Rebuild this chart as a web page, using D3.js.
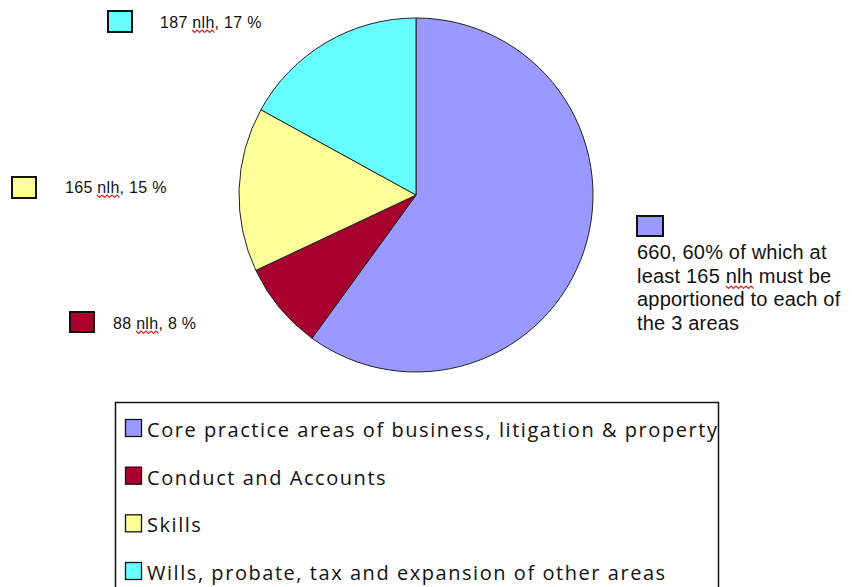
<!DOCTYPE html>
<html>
<head>
<meta charset="utf-8">
<script src="https://cdn.jsdelivr.net/npm/d3@7"></script>
<style>
  body { margin: 0; background: #fff; }
  svg { display: block; }
</style>
</head>
<body>
<svg id="chart" width="852" height="587"></svg>
<script>
var categories = ["Core practice areas of business, litigation & property",
                  "Conduct and Accounts",
                  "Skills",
                  "Wills, probate, tax and expansion of other areas"];
var values = [660, 88, 165, 187];
var percents = [60, 8, 15, 17];
var colours = ["#9999ff", "#a8002f", "#ffff99", "#66ffff"];
var calloutLines = [
  ["660, 60% of which at", "least 165 nlh must  be", "apportioned to each of", "the 3 areas"],
  ["88 nlh, 8 %"],
  ["165 nlh, 15 %"],
  ["187 nlh, 17 %"]
];

var svg = d3.select("#chart");
var cx = 416, cy = 195, radius = 177;

var pie = d3.pie().sort(null).value(function (d) { return d; });
var arc = d3.arc().innerRadius(0).outerRadius(radius);

var g = svg.append("g").attr("transform", "translate(" + cx + "," + cy + ")");
g.selectAll("path.slice")
  .data(pie(values))
  .enter().append("path")
  .attr("class", "slice")
  .attr("d", arc)
  .style("fill", function (d, i) { return colours[i]; })
  .style("stroke", "#222")
  .style("stroke-width", 1);

// callout labels: swatch + text
var callouts = [
  {sx: 637, sy: 216, sw: 26, sh: 20, tx: 637, ty: 259, size: 20, ls: 0.2, lh: 23.5},
  {sx: 70, sy: 312, sw: 24, sh: 20, tx: 113, ty: 329, size: 16, ls: 0.3, lh: 0},
  {sx: 12, sy: 177, sw: 24, sh: 21, tx: 65, ty: 193, size: 16, ls: 0.3, lh: 0},
  {sx: 108, sy: 11, sw: 24, sh: 21, tx: 160, ty: 28, size: 16, ls: 0.3, lh: 0}
];

function squiggle(x0, x1, y) {
  var p = "M" + x0 + "," + y;
  var up = true;
  for (var x = x0 + 2.5; x <= x1 + 0.5; x += 2.5) {
    p += "L" + x + "," + (up ? y + 2.5 : y);
    up = !up;
  }
  return p;
}

callouts.forEach(function (c, i) {
  svg.append("rect")
    .attr("x", c.sx).attr("y", c.sy)
    .attr("width", c.sw).attr("height", c.sh)
    .style("fill", colours[i])
    .style("stroke", "#111")
    .style("stroke-width", 2);
  var t = svg.append("text")
    .attr("x", c.tx).attr("y", c.ty)
    .style("font-family", "'Liberation Sans', Arial, sans-serif")
    .style("font-size", c.size + "px")
    .style("letter-spacing", c.ls + "px")
    .style("fill", "#111");
  calloutLines[i].forEach(function (line, j) {
    var parts = line.split("nlh");
    var ts = t.append("tspan").attr("x", c.tx).attr("dy", j === 0 ? 0 : c.lh);
    ts.append("tspan").text(parts[0]);
    if (parts.length > 1) {
      ts.append("tspan").attr("class", "nlh").text("nlh");
      ts.append("tspan").text(parts[1]);
    }
  });
  // red spell-check squiggle under "nlh"
  t.selectAll("tspan.nlh").each(function () {
    var bb = this.getBBox();
    svg.append("path")
      .attr("d", squiggle(Math.round(bb.x), Math.round(bb.x + bb.width), Math.round(bb.y + bb.height - 1)))
      .style("fill", "none")
      .style("stroke", "#e02020")
      .style("stroke-width", 1.1);
  });
});

// legend
var legend = svg.append("g");
legend.append("rect")
  .attr("x", 115.5).attr("y", 402.5)
  .attr("width", 603).attr("height", 200)
  .style("fill", "#fff")
  .style("stroke", "#111")
  .style("stroke-width", 1.5);

var ly = d3.scalePoint().domain(categories).range([428, 571]);

var item = legend.selectAll("g.item")
  .data(categories)
  .enter().append("g")
  .attr("class", "item")
  .attr("transform", function (d) { return "translate(0," + ly(d) + ")"; });
item.append("rect")
  .attr("x", 125.5).attr("y", -8.5)
  .attr("width", 16).attr("height", 17)
  .style("fill", function (d, i) { return colours[i]; })
  .style("stroke", "#111")
  .style("stroke-width", 1.3);
item.append("text")
  .attr("x", 147).attr("y", 9)
  .style("font-family", "'Open Sans', 'Noto Sans', sans-serif")
  .style("font-size", "20px")
  .style("letter-spacing", "1.55px")
  .style("fill", "#111")
  .text(function (d) { return d; });
</script>
</body>
</html>
